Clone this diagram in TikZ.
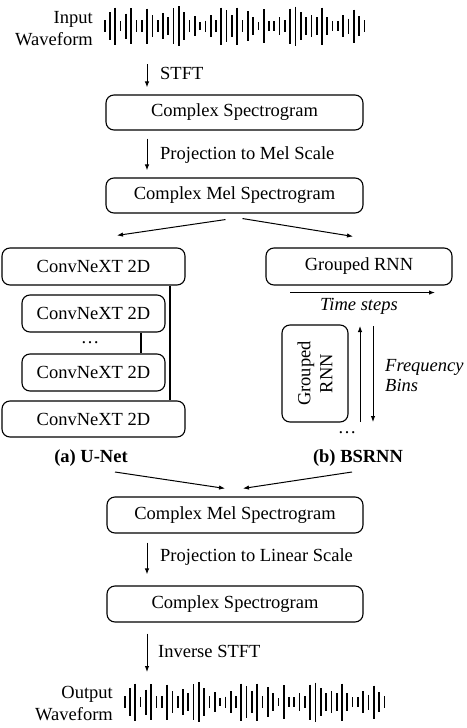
\documentclass[tikz,border=0pt]{standalone}
\usepackage{fontspec}
\setmainfont{Liberation Serif}
\usetikzlibrary{arrows.meta,calc}
\begin{document}
\begin{tikzpicture}[x=1pt,y=-1pt,
  every node/.style={font=\fontsize{18.5}{22}\selectfont, inner sep=0pt},
  blk/.style={draw, line width=1.1pt, rounded corners=8pt, minimum height=36pt},
  arr/.style={line width=1pt, -{Latex[length=6pt,width=4.5pt]}},
  ln/.style={line width=1.1pt},
  bar/.style={line width=1.7pt}]
\useasboundingbox (0,0) rectangle (466,728);
\def\wavelist{12,28,37,10,25,36,12,12,35,22,12,26,18,36,40,28,12,20,8,11,22,12,37,32,22,37,12,30,18,8,34,10,10,18,12,35,39,28,18,22,18,37,18,10,10,22,15,33,20,12}
% input waveform
\node[anchor=east, align=right] (inlbl) at (93,29) {Input\\Waveform};
\foreach \h [count=\i] in \wavelist { \draw[bar] ({104.7+5.3*(\i-1)},{26-\h/2}) -- ++(0,\h); }
\coordinate (inw) at (147,64);
% output waveform
\node[anchor=east, align=right] (outlbl) at (113,704) {Output\\Waveform};
\foreach \h [count=\i] in \wavelist { \draw[bar] ({124.7+5.3*(\i-1)},{702-\h/2}) -- ++(0,\h); }
\coordinate (outw) at (147,672);
% main chain
\node[blk, minimum width=257pt, minimum height=35pt] (cs1) at (234.5,112.5) {Complex Spectrogram};
\node[blk, minimum width=257pt, minimum height=35pt] (cms1) at (234.5,195.5) {Complex Mel Spectrogram};
\node[blk, minimum width=256pt] (cms2) at (235,515) {Complex Mel Spectrogram};
\node[blk, minimum width=256pt] (cs2) at (235,604) {Complex Spectrogram};
% U-Net
\node[blk, minimum width=183pt, minimum height=37pt] (convtop) at (93.5,266.5) {ConvNeXT 2D};
\node[blk, minimum width=143pt, minimum height=37pt] (convin1) at (93.5,313.5) {ConvNeXT 2D};
\node (udots) at (90,343) {\ldots};
\node[blk, minimum width=143pt, minimum height=37pt] (convin2) at (93.5,372.5) {ConvNeXT 2D};
\node[blk, minimum width=183pt] (convbot) at (93.5,419) {ConvNeXT 2D};
\node[font=\fontsize{18.5}{22}\selectfont\bfseries] (unet) at (91,458) {(a) U-Net};
\draw[ln] ($(convtop.south)+(76.5,0)$) -- ($(convbot.north)+(76.5,0)$);
\draw[ln] ($(convin1.south)+(47.5,0)$) -- ($(convin2.north)+(47.5,0)$);
% BSRNN
\node[blk, minimum width=186pt, minimum height=37pt] (grnn) at (359,266.5) {Grouped RNN};
\node[font=\fontsize{18.5}{22}\selectfont\itshape] (tsteps) at (359,306) {Time steps};
\node[blk, rotate=90, minimum width=97pt, minimum height=66pt, align=center] (grnnv) at (315,373.5) {Grouped\\RNN};
\node[anchor=west, align=left, font=\fontsize{18.5}{20}\selectfont\itshape] (fbins) at (385,376) {Frequency\\Bins};
\node (bdots) at (347,433) {\ldots};
\node[font=\fontsize{18.5}{22}\selectfont\bfseries] (bsrnn) at (358,458) {(b) BSRNN};
\draw[arr] ($(grnn.south)+(-69,7)$) -- ($(grnn.south)+(76,7)$);
\draw[arr] ($(grnnv)+(45,48.5)$) -- ($(grnnv)+(45,-47.5)$);
\draw[arr] ($(grnnv)+(58,-47.5)$) -- ($(grnnv)+(58,48.5)$);
% chain arrows and labels
\draw[arr, shorten >=7pt] (inw) -- (inw |- cs1.north);
\node[anchor=west] (l1) at (160,73) {STFT};
\draw[arr, shorten <=8pt, shorten >=7pt] (inw |- cs1.south) -- (inw |- cms1.north);
\node[anchor=west] (l2) at (160,155) {Projection to Mel Scale};
\draw[arr] ($(cms1.south)+(-9,6)$) -- ($(convtop.north)+(23.5,-12)$);
\draw[arr] ($(cms1.south)+(8,5)$) -- ($(grnn.north)+(-6,-11)$);
\draw[arr] ($(unet)+(24,14)$) -- ($(cms2.north)+(-10,-8)$);
\draw[arr] ($(bsrnn)+(-6,14)$) -- ($(cms2.north)+(8,-8)$);
\draw[arr, shorten <=9pt, shorten >=11pt] (inw |- cms2.south) -- (inw |- cs2.north);
\node[anchor=west] (l3) at (160,557) {Projection to Linear Scale};
\draw[arr, shorten <=11pt] (inw |- cs2.south) -- (outw);
\node[anchor=west] (l4) at (158,651) {Inverse STFT};
\end{tikzpicture}
\end{document}
